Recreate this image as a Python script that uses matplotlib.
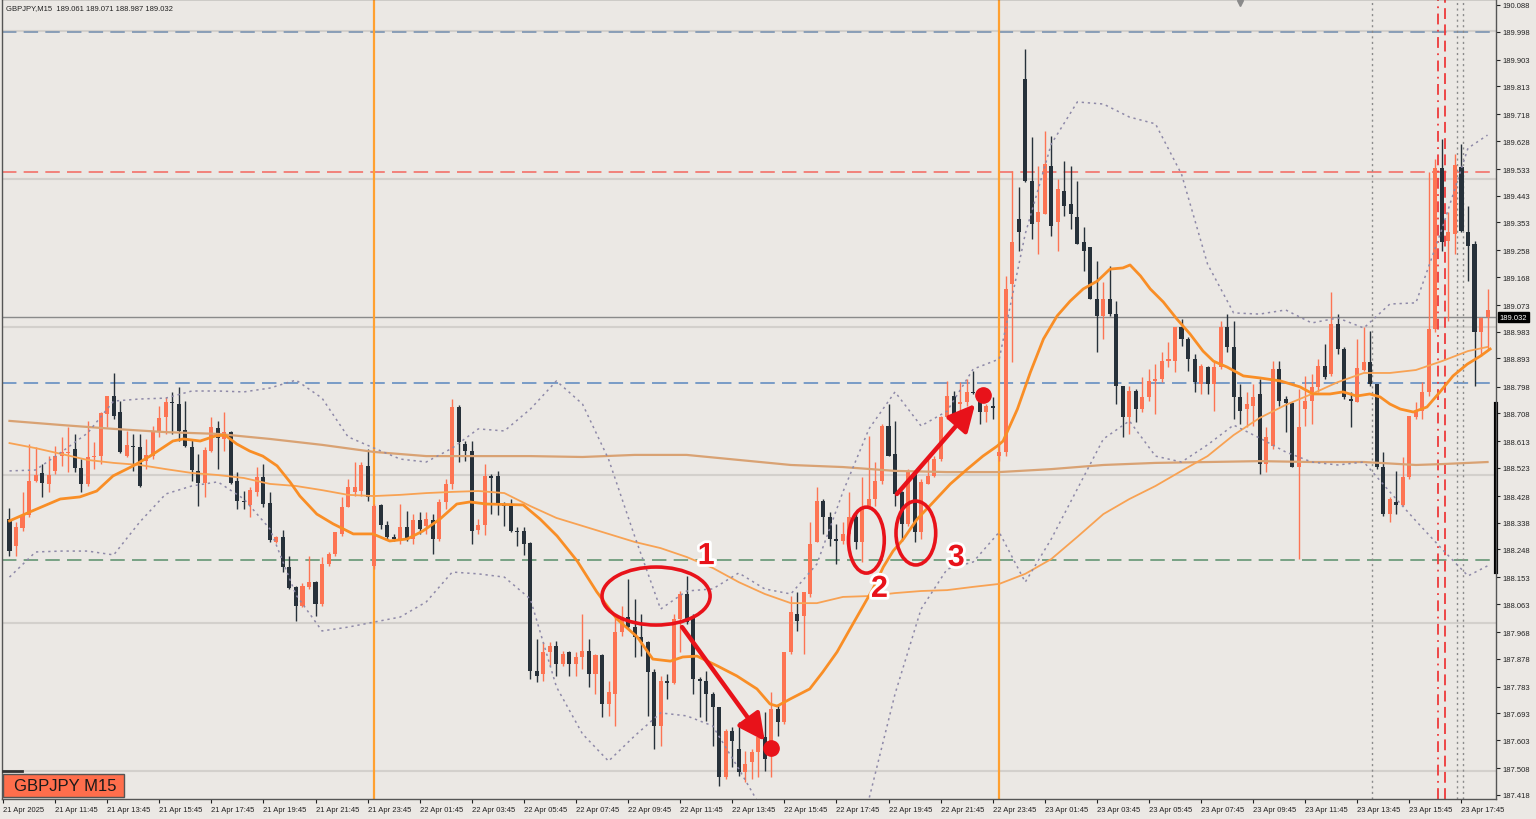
import numpy as np
import matplotlib
matplotlib.use('Agg')
import matplotlib.pyplot as plt
from matplotlib.patches import Ellipse, Rectangle
from matplotlib.transforms import blended_transform_factory
import matplotlib.patheffects as pe

plt.rcParams['font.family'] = ['Liberation Sans', 'DejaVu Sans']

# GBPJPY M15 candles, 21 Apr 10:00 onwards
open_ = [
    188.350, 188.259, 188.320, 188.364, 188.479, 188.506, 188.469, 188.513, 188.563, 188.574,
    188.587, 188.523, 188.469, 188.560, 188.563, 188.705, 188.766, 188.712, 188.563, 188.597,
    188.594, 188.546, 188.563, 188.644, 188.695, 188.746, 188.739, 188.651, 188.594, 188.513,
    188.472, 188.580, 188.658, 188.621, 188.644, 188.479, 188.411, 188.398, 188.442, 188.492,
    188.404, 188.273, 188.290, 188.188, 188.121, 188.056, 188.121, 188.137, 188.063, 188.198,
    188.232, 188.300, 188.391, 188.442, 188.445, 188.530, 188.192, 188.398, 188.330, 188.290,
    188.283, 188.323, 188.283, 188.347, 188.327, 188.347, 188.283, 188.408, 188.469, 188.729,
    188.604, 188.580, 188.313, 188.330, 188.496, 188.496, 188.398, 188.398, 188.310, 188.310,
    188.269, 187.837, 187.827, 187.901, 187.921, 187.860, 187.901, 187.860, 187.884, 187.904,
    187.827, 187.891, 187.725, 187.759, 187.968, 188.019, 187.985, 187.952, 187.935, 187.833,
    187.651, 187.803, 187.796, 188.012, 188.097, 188.019, 187.810, 187.803, 187.759, 187.715,
    187.478, 187.634, 187.573, 187.495, 187.529, 187.563, 187.614, 187.580, 187.708, 187.664,
    187.901, 188.029, 188.023, 188.097, 188.273, 188.411, 188.357, 188.283, 188.276, 188.300,
    188.357, 188.273, 188.391, 188.418, 188.479, 188.665, 188.570, 188.442, 188.334, 188.503,
    188.306, 188.469, 188.496, 188.553, 188.695, 188.766, 188.739, 188.746, 188.780, 188.766,
    188.712, 188.732, 188.563, 188.577, 189.145, 189.364, 189.838, 189.493, 189.354, 189.381,
    189.544, 189.354, 189.459, 189.415, 189.371, 189.287, 189.270, 189.094, 189.037, 189.094,
    189.043, 188.800, 188.695, 188.783, 188.722, 188.763, 188.817, 188.824, 188.884, 188.884,
    188.999, 188.959, 188.891, 188.807, 188.864, 188.807, 188.864, 188.999, 188.932, 188.763,
    188.722, 188.732, 188.773, 188.536, 188.597, 188.857, 188.756, 188.742, 188.526, 188.722,
    188.749, 188.797, 188.868, 188.840, 189.010, 188.925, 188.756, 188.746, 188.854, 188.881,
    188.807, 188.526, 188.367, 188.408, 188.398, 188.492, 188.695, 188.715, 188.780, 188.993,
    189.537, 189.290, 189.314, 189.540, 189.320, 189.280, 188.983, 189.033,
]
high = [
    188.388, 188.340, 188.442, 188.604, 188.594, 188.536, 188.563, 188.597, 188.628, 188.661,
    188.638, 188.553, 188.682, 188.611, 188.712, 188.766, 188.844, 188.749, 188.648, 188.638,
    188.638, 188.621, 188.665, 188.732, 188.763, 188.780, 188.797, 188.749, 188.621, 188.570,
    188.594, 188.695, 188.682, 188.712, 188.648, 188.509, 188.445, 188.459, 188.526, 188.536,
    188.442, 188.293, 188.313, 188.225, 188.124, 188.134, 188.225, 188.141, 188.222, 188.239,
    188.306, 188.425, 188.486, 188.543, 188.543, 188.587, 188.401, 188.401, 188.344, 188.300,
    188.401, 188.377, 188.367, 188.374, 188.374, 188.367, 188.418, 188.486, 188.756, 188.736,
    188.614, 188.614, 188.350, 188.536, 188.503, 188.513, 188.408, 188.418, 188.323, 188.323,
    188.273, 187.945, 187.935, 187.935, 187.938, 187.904, 187.904, 187.901, 188.029, 187.945,
    187.894, 187.894, 187.803, 188.023, 188.056, 188.148, 188.080, 188.029, 187.938, 187.843,
    187.820, 187.827, 188.029, 188.107, 188.158, 188.029, 187.816, 187.837, 187.766, 187.715,
    187.641, 187.647, 187.664, 187.566, 187.573, 187.624, 187.698, 187.766, 187.725, 187.901,
    188.090, 188.104, 188.104, 188.340, 188.459, 188.418, 188.374, 188.334, 188.340, 188.442,
    188.374, 188.492, 188.631, 188.543, 188.672, 188.739, 188.682, 188.445, 188.519, 188.509,
    188.486, 188.553, 188.563, 188.699, 188.817, 188.783, 188.813, 188.824, 188.851, 188.773,
    188.739, 188.763, 188.611, 189.172, 189.527, 189.473, 189.939, 189.642, 189.544, 189.662,
    189.645, 189.500, 189.560, 189.544, 189.493, 189.337, 189.270, 189.222, 189.151, 189.206,
    189.087, 188.800, 188.800, 188.790, 188.830, 188.857, 188.874, 188.915, 188.949, 188.999,
    189.026, 188.966, 188.908, 188.874, 188.868, 188.884, 189.020, 189.043, 189.020, 188.807,
    188.780, 188.807, 188.824, 188.661, 188.884, 188.884, 188.766, 188.746, 188.790, 188.834,
    188.840, 188.891, 188.942, 189.118, 189.043, 188.932, 188.780, 188.959, 188.999, 188.986,
    188.807, 188.577, 188.425, 188.513, 188.560, 188.699, 188.746, 188.813, 189.523, 189.567,
    189.635, 189.388, 189.584, 189.618, 189.408, 189.290, 189.033, 189.128,
]
low = [
    188.225, 188.225, 188.310, 188.357, 188.476, 188.425, 188.442, 188.503, 188.530, 188.509,
    188.509, 188.442, 188.462, 188.519, 188.536, 188.661, 188.688, 188.574, 188.560, 188.513,
    188.459, 188.519, 188.553, 188.628, 188.638, 188.638, 188.614, 188.594, 188.479, 188.394,
    188.425, 188.577, 188.519, 188.580, 188.469, 188.384, 188.384, 188.357, 188.428, 188.391,
    188.273, 188.269, 188.171, 188.114, 188.006, 188.053, 188.114, 188.023, 188.056, 188.192,
    188.225, 188.293, 188.391, 188.428, 188.428, 188.411, 188.181, 188.317, 188.279, 188.276,
    188.266, 188.276, 188.266, 188.300, 188.300, 188.232, 188.276, 188.384, 188.452, 188.543,
    188.546, 188.266, 188.300, 188.296, 188.367, 188.364, 188.327, 188.306, 188.259, 188.229,
    187.810, 187.800, 187.803, 187.854, 187.820, 187.854, 187.820, 187.820, 187.843, 187.783,
    187.759, 187.681, 187.685, 187.651, 187.955, 187.979, 187.884, 187.887, 187.685, 187.573,
    187.583, 187.742, 187.793, 187.901, 187.996, 187.759, 187.681, 187.668, 187.583, 187.448,
    187.472, 187.512, 187.482, 187.461, 187.472, 187.478, 187.499, 187.478, 187.617, 187.658,
    187.894, 187.972, 187.894, 188.087, 188.273, 188.300, 188.259, 188.198, 188.266, 188.266,
    188.249, 188.205, 188.391, 188.394, 188.469, 188.563, 188.394, 188.276, 188.327, 188.273,
    188.283, 188.469, 188.492, 188.546, 188.688, 188.688, 188.705, 188.732, 188.773, 188.672,
    188.678, 188.688, 188.546, 188.563, 188.881, 189.256, 189.490, 189.297, 189.246, 189.381,
    189.307, 189.256, 189.375, 189.331, 189.280, 189.189, 189.094, 188.915, 188.959, 189.037,
    188.739, 188.628, 188.638, 188.678, 188.712, 188.749, 188.705, 188.813, 188.864, 188.847,
    188.935, 188.851, 188.780, 188.773, 188.773, 188.715, 188.857, 188.915, 188.688, 188.672,
    188.661, 188.665, 188.503, 188.509, 188.587, 188.732, 188.644, 188.526, 188.215, 188.665,
    188.672, 188.780, 188.824, 188.834, 188.908, 188.756, 188.661, 188.746, 188.851, 188.800,
    188.519, 188.361, 188.340, 188.367, 188.394, 188.486, 188.688, 188.688, 188.766, 188.983,
    189.256, 189.020, 189.246, 189.320, 189.155, 188.800, 188.901, 188.925,
]
close = [
    188.242, 188.323, 188.364, 188.479, 188.499, 188.472, 188.499, 188.563, 188.577, 188.577,
    188.523, 188.469, 188.560, 188.563, 188.709, 188.766, 188.699, 188.577, 188.601, 188.594,
    188.462, 188.567, 188.644, 188.692, 188.746, 188.742, 188.648, 188.597, 188.516, 188.472,
    188.584, 188.661, 188.624, 188.644, 188.472, 188.411, 188.408, 188.449, 188.492, 188.401,
    188.279, 188.290, 188.188, 188.117, 188.056, 188.124, 188.137, 188.063, 188.198, 188.232,
    188.306, 188.391, 188.459, 188.459, 188.533, 188.425, 188.394, 188.330, 188.290, 188.283,
    188.323, 188.286, 188.347, 188.317, 188.350, 188.283, 188.408, 188.469, 188.729, 188.611,
    188.580, 188.310, 188.330, 188.496, 188.489, 188.401, 188.394, 188.310, 188.306, 188.266,
    187.837, 187.820, 187.901, 187.921, 187.860, 187.894, 187.860, 187.884, 187.904, 187.827,
    187.891, 187.725, 187.766, 187.968, 188.019, 187.985, 187.952, 187.935, 187.833, 187.651,
    187.803, 187.796, 188.012, 188.097, 188.002, 187.810, 187.803, 187.759, 187.715, 187.478,
    187.634, 187.600, 187.495, 187.522, 187.563, 187.614, 187.539, 187.708, 187.664, 187.901,
    188.036, 188.006, 188.104, 188.266, 188.411, 188.357, 188.283, 188.276, 188.300, 188.357,
    188.273, 188.391, 188.418, 188.479, 188.665, 188.563, 188.435, 188.334, 188.513, 188.306,
    188.476, 188.496, 188.553, 188.695, 188.766, 188.695, 188.746, 188.780, 188.776, 188.712,
    188.732, 188.726, 188.577, 189.128, 189.287, 189.320, 189.493, 189.348, 189.388, 189.550,
    189.341, 189.466, 189.408, 189.381, 189.280, 189.256, 189.094, 189.037, 189.094, 189.043,
    188.800, 188.695, 188.783, 188.722, 188.763, 188.817, 188.824, 188.884, 188.891, 188.999,
    188.959, 188.891, 188.813, 188.868, 188.807, 188.864, 188.999, 188.932, 188.763, 188.715,
    188.739, 188.763, 188.536, 188.628, 188.857, 188.749, 188.742, 188.526, 188.661, 188.749,
    188.797, 188.868, 188.830, 189.010, 188.925, 188.763, 188.749, 188.861, 188.881, 188.807,
    188.526, 188.367, 188.418, 188.398, 188.492, 188.699, 188.715, 188.780, 188.993, 189.537,
    189.287, 189.320, 189.547, 189.324, 189.273, 188.983, 189.030, 189.057,
]

# fast moving average (thick orange), read at these bar positions
fast_pos = [0, 3.1, 7.8, 10.8, 13.4, 15.9, 19.0, 21.6, 25.1, 26.7, 29.3, 31.6, 33.1, 34.9,
            36.9, 38.9, 41.1, 43.1, 44.6, 47.2, 49.7, 52.8, 55.8, 58.4, 61.1, 63.5, 66.1,
            68.7, 70.7, 73.3, 78.9, 81.5, 84.1, 87.2, 90.2, 93.3, 96.4, 98.8, 101.5, 103.4,
            105.6, 108.7, 111.7, 114.8, 116.8, 117.9, 119.9, 122.9, 124.9, 127.1, 129.1,
            131.1, 132.6, 134.2, 135.7, 137.3, 139.4, 141.9, 144.5, 147.1, 149.5, 151.7,
            152.6, 154.8, 156.8, 158.8, 160.9, 162.9, 164.9, 167.1, 169.0, 171.0, 172.1,
            173.7, 175.2, 177.2, 179.3, 181.3, 183.3, 184.9, 187.0, 189.5, 192.1, 195.2,
            198.2, 200.2, 202.8, 204.8, 206.9, 208.9, 210.5, 212.0, 213.6, 215.6, 217.7,
            219.7, 221.7, 223.9, 225.9, 227.4]
ma_fast = [188.344, 188.374, 188.418, 188.425, 188.445, 188.496, 188.530, 188.563, 188.614,
           188.621, 188.614, 188.631, 188.634, 188.604, 188.580, 188.563, 188.530, 188.475,
           188.428, 188.367, 188.334, 188.300, 188.300, 188.276, 188.283, 188.310, 188.350,
           188.401, 188.408, 188.401, 188.398, 188.350, 188.293, 188.208, 188.104, 188.012,
           187.952, 187.877, 187.870, 187.884, 187.887, 187.854, 187.820, 187.776, 187.725,
           187.718, 187.742, 187.776, 187.833, 187.901, 187.979, 188.056, 188.114, 188.188,
           188.242, 188.283, 188.350, 188.408, 188.469, 188.519, 188.563, 188.597, 188.614,
           188.722, 188.847, 188.959, 189.037, 189.087, 189.128, 189.155, 189.195, 189.199,
           189.209, 189.172, 189.128, 189.084, 189.026, 188.976, 188.918, 188.884, 188.864,
           188.834, 188.827, 188.817, 188.797, 188.773, 188.773, 188.780, 188.766, 188.773,
           188.763, 188.739, 188.722, 188.712, 188.729, 188.780, 188.834, 188.874, 188.901,
           188.925]

# other indicator lines, read every 4 bars
ind_idx = list(range(0, 228, 4)) + [227]
ma_mid = [
    188.607, 188.590, 188.570, 188.550, 188.540, 188.533, 188.519, 188.506, 188.499, 188.489,
    188.469, 188.462, 188.448, 188.432, 188.428, 188.432, 188.438, 188.442, 188.445, 188.438,
    188.394, 188.354, 188.327, 188.300, 188.273, 188.252, 188.222, 188.185, 188.137, 188.097,
    188.066, 188.066, 188.087, 188.090, 188.100, 188.107, 188.110, 188.121, 188.131, 188.165,
    188.215, 188.290, 188.367, 188.418, 188.462, 188.513, 188.563, 188.634, 188.692, 188.736,
    188.773, 188.813, 188.844, 188.844, 188.854, 188.884, 188.918, 188.932,
]
bb_upper = [
    188.513, 188.516, 188.577, 188.641, 188.749, 188.756, 188.759, 188.783, 188.783, 188.780,
    188.793, 188.820, 188.759, 188.628, 188.590, 188.553, 188.543, 188.590, 188.655, 188.648,
    188.722, 188.817, 188.739, 188.553, 188.293, 188.046, 188.107, 188.114, 188.168, 188.114,
    188.097, 188.198, 188.442, 188.655, 188.780, 188.665, 188.715, 188.857, 188.891, 189.314,
    189.618, 189.760, 189.753, 189.709, 189.686, 189.516, 189.212, 189.047, 189.043, 189.057,
    189.013, 189.030, 188.996, 189.077, 189.081, 189.331, 189.604, 189.648,
]
bb_lower = [
    188.154, 188.239, 188.242, 188.242, 188.229, 188.340, 188.435, 188.462, 188.476, 188.418,
    188.317, 188.094, 187.972, 187.985, 188.002, 188.019, 188.070, 188.171, 188.165, 188.154,
    188.080, 187.783, 187.624, 187.532, 187.617, 187.695, 187.685, 187.651, 187.506, 187.353,
    187.201, 187.134, 187.201, 187.404, 187.759, 188.046, 188.181, 188.205, 188.306, 188.137,
    188.283, 188.452, 188.621, 188.682, 188.563, 188.543, 188.601, 188.668, 188.624, 188.577,
    188.543, 188.533, 188.543, 188.442, 188.344, 188.249, 188.158, 188.192,
]
slow_idx = list(range(0, 217, 8)) + [220, 227]
ma_slow = [
    188.682, 188.668, 188.655, 188.644, 188.638, 188.621, 188.601, 188.577, 188.563, 188.563,
    188.563, 188.560, 188.567, 188.567, 188.550, 188.533, 188.526, 188.513, 188.509, 188.509,
    188.519, 188.533, 188.540, 188.543, 188.546, 188.543, 188.543, 188.533, 188.536, 188.543,
]

price_ticks = [190.088, 189.998, 189.903, 189.813, 189.718, 189.628, 189.533, 189.443,
               189.353, 189.258, 189.168, 189.073, 188.983, 188.893, 188.798, 188.708,
               188.613, 188.523, 188.428, 188.338, 188.248, 188.153, 188.063, 187.968,
               187.878, 187.783, 187.693, 187.603, 187.508, 187.418]
time_labels = ['21 Apr 2025', '21 Apr 11:45', '21 Apr 13:45', '21 Apr 15:45', '21 Apr 17:45',
               '21 Apr 19:45', '21 Apr 21:45', '21 Apr 23:45', '22 Apr 01:45', '22 Apr 03:45',
               '22 Apr 05:45', '22 Apr 07:45', '22 Apr 09:45', '22 Apr 11:45', '22 Apr 13:45',
               '22 Apr 15:45', '22 Apr 17:45', '22 Apr 19:45', '22 Apr 21:45', '22 Apr 23:45',
               '23 Apr 01:45', '23 Apr 03:45', '23 Apr 05:45', '23 Apr 07:45', '23 Apr 09:45',
               '23 Apr 11:45', '23 Apr 13:45', '23 Apr 15:45', '23 Apr 17:45']
time_pos = list(range(-1, 228, 8))

round_levels = [190.0, 189.5, 189.0, 188.5, 188.0, 187.5]
day_breaks = [56, 152]
last_price = 189.032

BG = '#ebe8e4'
BULL = '#fd7453'
BEAR = '#27313a'
RED = '#e8121a'

fig = plt.figure(figsize=(15.36, 8.2), dpi=100, facecolor=BG)
ax = fig.add_axes([2 / 1536, 20 / 820, 1494 / 1536, 800 / 820])
ax.set_facecolor(BG)

o = np.array(open_)
h = np.array(high)
l = np.array(low)
c = np.array(close)
x = np.arange(len(o))
cols = np.where(c >= o, BULL, BEAR)

# background levels
for lv in round_levels:
    ax.axhline(lv, color='#d3d0cc', lw=1.5, zorder=0)
ax.axhline(189.996, color='#8399b4', lw=1.3, ls=(0, (8, 4)), zorder=1)
ax.axhline(189.524, color='#f27a72', lw=1.3, ls=(0, (8, 4)), zorder=1)
ax.axhline(188.810, color='#6f96c4', lw=1.3, ls=(0, (8, 4)), zorder=1)
ax.axhline(188.212, color='#6e9c7c', lw=1.3, ls=(0, (8, 4)), zorder=1)
ax.axhline(last_price, color='#8a8a8a', lw=1.0, zorder=1)
for d in day_breaks:
    ax.axvline(d, color='#ffa030', lw=1.6, zorder=1)
for v in [209.3, 222.3, 223.3]:
    ax.axvline(v, color='#8a8a8a', lw=1.0, ls=(0, (1.5, 2.5)), zorder=1)
ax.axvline(219.4, color='#ee3a3a', lw=1.3, ls=(0, (6, 3, 1, 3)), zorder=1)
ax.axvline(220.4, color='#ee3a3a', lw=1.3, ls=(0, (6, 3)), zorder=1)

# candles
ax.vlines(x, l, h, colors=cols, lw=1.0, zorder=2)
ax.bar(x, np.maximum(np.abs(c - o), 0.003), bottom=np.minimum(o, c), width=0.62,
       color=cols, linewidth=0, zorder=3)

# indicators
ax.plot(slow_idx, ma_slow, color='#d9a273', lw=1.6, zorder=4)
ax.plot(ind_idx, ma_mid, color='#f8a253', lw=1.3, zorder=4)
ax.plot(fast_pos, ma_fast, color='#f98e26', lw=2.0, zorder=4)
ax.plot(ind_idx, bb_upper, color='#8e89a8', lw=1.1, ls=(0, (1.5, 2.5)), zorder=4)
ax.plot(ind_idx, bb_lower, color='#8e89a8', lw=1.1, ls=(0, (1.5, 2.5)), zorder=4)

# annotations
for cx, cy, w, hh in [(99.3, 188.090, 16.6, 0.196), (131.6, 188.279, 5.5, 0.223),
                      (139.2, 188.303, 6.1, 0.216)]:
    ax.add_patch(Ellipse((cx, cy), w, hh, fill=False, ec=RED, lw=2.6, zorder=6))
for tx, ty, s in [(107.0, 188.225, '1'), (133.6, 188.114, '2'), (145.4, 188.219, '3')]:
    ax.text(tx, ty, s, color=RED, fontsize=22, fontweight='bold',
            ha='center', va='center', zorder=7,
            path_effects=[pe.withStroke(linewidth=4, foreground='white')])
arrow = dict(arrowstyle='-|>,head_length=0.9,head_width=0.45', lw=3.2, color=RED,
             mutation_scale=18, shrinkA=0, shrinkB=0)
ax.annotate('', xy=(116.0, 187.600), xytext=(103.3, 187.985), arrowprops=arrow, zorder=6)
ax.annotate('', xy=(148.3, 188.739), xytext=(136.3, 188.435), arrowprops=arrow, zorder=6)
ax.plot([117.0, 149.5], [187.576, 188.770], 'o', color=RED, ms=11, zorder=7)

ax.set_xlim(-1.15, 228.3)
ax.set_ylim(187.404, 190.108)

# axes styling, MT4 like
ax.yaxis.tick_right()
ax.set_yticks(price_ticks)
ax.set_yticklabels([f'{p:.3f}' for p in price_ticks])
ax.set_xticks(time_pos)
ax.set_xticklabels(time_labels)
ax.tick_params(axis='both', labelsize=5.5, colors='#222222', length=3, width=0.8, pad=2)
for t in ax.get_xticklabels():
    t.set_ha('left')
for s in ax.spines.values():
    s.set_color('#555555')
    s.set_linewidth(1.0)

tr = blended_transform_factory(ax.transAxes, ax.transData)
ax.text(1.0025, last_price, f'{last_price:.3f}', transform=tr, fontsize=5.5, color='white',
        va='center', ha='left', zorder=8,
        bbox=dict(boxstyle='square,pad=0.2', fc='black', ec='black'))
ax.plot([1.0, 1.0], [188.171, 188.739], transform=tr, color='black', lw=3, clip_on=False)
ax.plot([189.0], [190.095], marker='v', color='#8a8a8a', ms=5, clip_on=False, zorder=8)

fig.text(6 / 1536, 1 - 9 / 820, 'GBPJPY,M15  189.061 189.071 188.987 189.032',
         fontsize=5.5, color='#222222', va='center', ha='left')
fig.patches.append(Rectangle((3 / 1536, 1 - 798 / 820), 121 / 1536, 23 / 820,
                             transform=fig.transFigure, fc='#ff6e4c', ec='#555555', lw=1))
fig.text(14 / 1536, 1 - 787 / 820, 'GBPJPY M15', fontsize=12,
         color='#1a1a1a', va='center', ha='left')
fig.lines.append(plt.Line2D([3 / 1536, 22 / 1536], [1 - 772 / 820, 1 - 772 / 820],
                            transform=fig.transFigure, color='#333333', lw=2))

fig.savefig('out.png', dpi=100, facecolor=BG)
